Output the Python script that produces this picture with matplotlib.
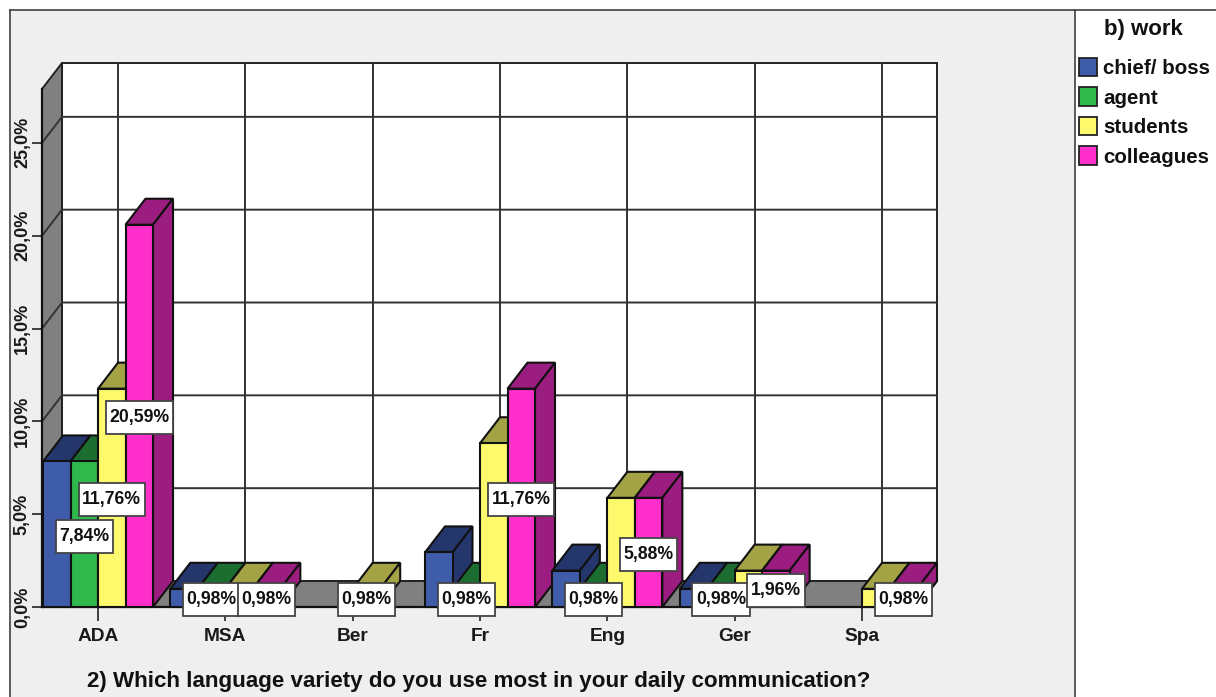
import matplotlib
matplotlib.use('Agg')
import matplotlib.pyplot as plt
from matplotlib.lines import Line2D
from matplotlib.patches import Patch, Polygon, Rectangle
from matplotlib.path import Path

plt.rcParams['font.family'] = ['Liberation Sans', 'DejaVu Sans']
plt.rcParams['font.weight'] = 'bold'

languages = ['ADA', 'MSA', 'Ber', 'Fr', 'Eng', 'Ger', 'Spa']
y_ticks = [0, 5, 10, 15, 20, 25]

# percentages, 0 means no bar
chief = [7.84, 0.98, 0, 2.94, 1.96, 0.98, 0]
agent = [7.84, 0.98, 0, 0.98, 0.98, 0.98, 0]
students = [11.76, 0.98, 0.98, 8.82, 5.88, 1.96, 0.98]
colleagues = [20.59, 0.98, 0, 11.76, 5.88, 1.96, 0.98]

# which bars carry a value box
chief_boxes = [False, False, False, False, False, False, False]
agent_boxes = [True, True, False, True, True, True, False]
students_boxes = [True, False, True, False, False, False, False]
colleagues_boxes = [True, True, False, True, True, True, True]

series_names = ['chief/ boss', 'agent', 'students', 'colleagues']
front_colors = ['#3f5cab', '#2fb84c', '#fdf96d', '#ff2fcb']
dark_colors = ['#25366d', '#1b6e30', '#a3a245', '#9c1d80']

W, H = 1216, 697
fig = plt.figure(figsize=(W / 100, H / 100), dpi=100, facecolor='white')

# outer panel and frame
fig.add_artist(Rectangle((10 / W, 0), 1065 / W, 1 - 10 / H, transform=fig.transFigure,
                         facecolor='#efefef', edgecolor='none', zorder=-2))
for xs, ys in [((10, W), (10, 10)), ((10, 10), (10, H)), ((1075, 1075), (10, H))]:
    fig.add_artist(Line2D([x / W for x in xs], [1 - y / H for y in ys],
                          color='#404040', lw=1.2, zorder=-1))

ax = fig.add_axes([42 / W, 1 - 607 / H, 875 / W, 518 / H])
ax.set_facecolor('none')
x_low, x_high = -0.44, 6.432
y_top = 27.9
ax.set_xlim(x_low, x_high)
ax.set_ylim(0, y_top)

# 3d offset of the box and the bar width, in data units
depth_x = 0.157
depth_y = 1.4
bar_w = 0.216
edge_lw = 1.5
grid_lw = 1.4

# walls
ax.add_patch(Polygon([(x_low + depth_x, depth_y), (x_low + depth_x, y_top + depth_y),
                      (x_high + depth_x, y_top + depth_y), (x_high + depth_x, depth_y)],
                     facecolor='white', edgecolor='#222222', lw=grid_lw, clip_on=False, zorder=1))
ax.add_patch(Polygon([(x_low, 0), (x_low, y_top), (x_low + depth_x, y_top + depth_y),
                      (x_low + depth_x, depth_y)],
                     facecolor='#808080', edgecolor='#222222', lw=grid_lw, clip_on=False, zorder=1))
ax.add_patch(Polygon([(x_low, 0), (x_high, 0), (x_high + depth_x, depth_y),
                      (x_low + depth_x, depth_y)],
                     facecolor='#808080', edgecolor='#222222', lw=grid_lw, clip_on=False, zorder=1))

# grid on back wall plus the slanted bits on the side wall
for t in y_ticks[1:]:
    ax.plot([x_low, x_low + depth_x, x_high + depth_x], [t, t + depth_y, t + depth_y],
            color='#333333', lw=grid_lw, clip_on=False, zorder=1.5)
for i in range(len(languages)):
    ax.plot([i + depth_x, i + depth_x], [depth_y, y_top + depth_y],
            color='#333333', lw=grid_lw, clip_on=False, zorder=1.5)


def draw_bar(x, value, front, dark, z):
    left = x
    right = x + bar_w
    ax.add_patch(Polygon([(left, value), (left + depth_x, value + depth_y),
                          (right + depth_x, value + depth_y), (right, value)],
                         facecolor=dark, edgecolor='#111111', lw=edge_lw, clip_on=False, zorder=z))
    ax.add_patch(Polygon([(right, 0), (right + depth_x, depth_y),
                          (right + depth_x, value + depth_y), (right, value)],
                         facecolor=dark, edgecolor='#111111', lw=edge_lw, clip_on=False, zorder=z))
    ax.add_patch(Rectangle((left, 0), bar_w, value, facecolor=front,
                           edgecolor='#111111', lw=edge_lw, clip_on=False, zorder=z))


def label_box(x0, y0, width, height, mutation_size):
    # tight at the sides, roomy above and below the text
    pad_x = 0.2 * mutation_size
    pad_y = 0.45 * mutation_size
    x1, y1 = x0 + width + pad_x, y0 + height + pad_y
    x0, y0 = x0 - pad_x, y0 - pad_y
    return Path([(x0, y0), (x1, y0), (x1, y1), (x0, y1), (x0, y0)], closed=True)


all_series = [chief, agent, students, colleagues]
all_boxes = [chief_boxes, agent_boxes, students_boxes, colleagues_boxes]

z = 3
for i in range(len(languages)):
    for s in range(4):
        value = all_series[s][i]
        if value > 0:
            draw_bar(i + (s - 2) * bar_w, value, front_colors[s], dark_colors[s], z)
            z += 0.01

# value boxes sit on top of everything
for s in range(4):
    for i in range(len(languages)):
        if all_boxes[s][i]:
            value = all_series[s][i]
            ax.text(i + (s - 1.5) * bar_w, value / 2, f'{value:.2f}%'.replace('.', ','),
                    ha='center', va='center_baseline', fontsize=12.7, color='#111111', zorder=10,
                    clip_on=False,
                    bbox=dict(boxstyle=label_box, facecolor='white',
                              edgecolor='#444444', lw=1.3))

for side in ['top', 'right']:
    ax.spines[side].set_visible(False)
for side in ['left', 'bottom']:
    ax.spines[side].set_color('#111111')
    ax.spines[side].set_linewidth(1.6)
ax.spines['bottom'].set_zorder(2)

ax.set_xticks(range(len(languages)))
ax.set_xticklabels(languages, fontsize=13.8, color='#1a1a1a')
ax.set_yticks(y_ticks)
ax.set_yticklabels([f'{t:.1f}%'.replace('.', ',') for t in y_ticks], rotation=90,
                   va='center', fontsize=13, color='#1a1a1a')
ax.tick_params(axis='x', length=10, width=1.2, color='#222222', pad=5)
ax.tick_params(axis='y', length=7, width=1.2, color='#222222', pad=1)

fig.text(479 / W, 1 - 682 / H, '2) Which language variety do you use most in your daily communication?',
         ha='center', va='center', fontsize=16.1, color='#111111')

fig.text(1143 / W, 1 - 30 / H, 'b) work', ha='center', va='center', fontsize=16, color='#111111')
handles = [Patch(facecolor=c, edgecolor='#222222', lw=1.3) for c in front_colors]
legend = fig.legend(handles, series_names, loc='upper left',
                    bbox_to_anchor=(1079 / W, 1 - 58 / H), frameon=False,
                    fontsize=14.8, labelspacing=0.45, borderaxespad=0,
                    handlelength=0.88, handleheight=1.0, handletextpad=0.3, borderpad=0)
for t in legend.get_texts():
    t.set_color('#111111')

fig.savefig('out.png', dpi=100)
